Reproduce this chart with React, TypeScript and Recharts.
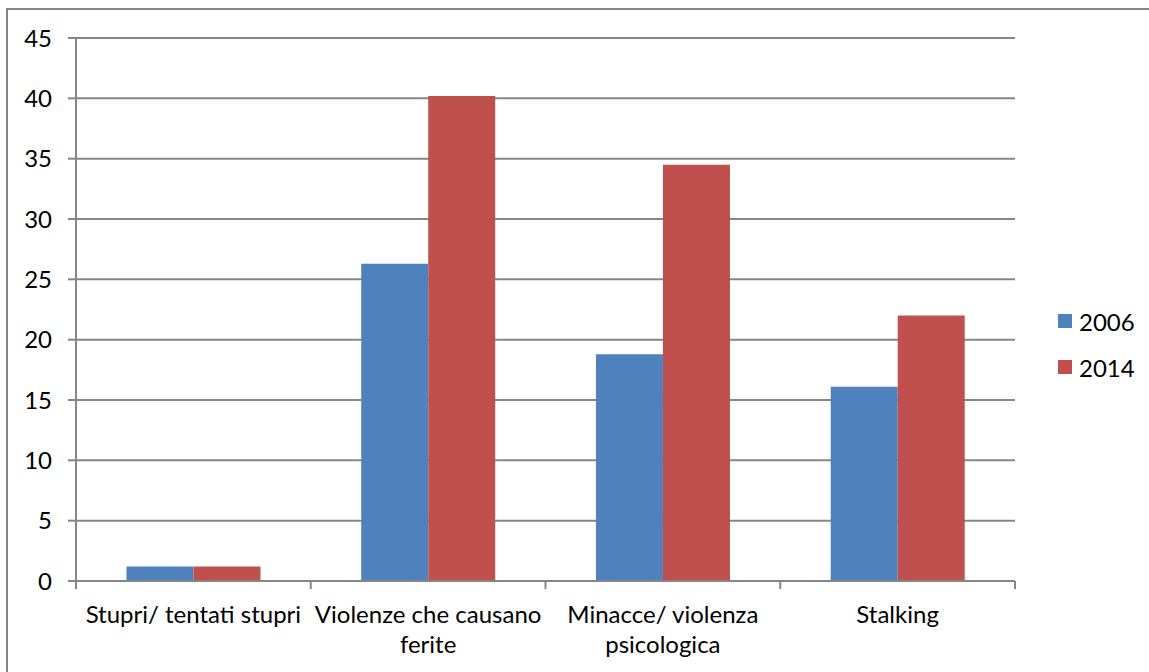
import React from 'react';
import { BarChart, Bar, XAxis, YAxis, CartesianGrid } from 'recharts';

const categories = ['Stupri/ tentati stupri', 'Violenze che causano\nferite', 'Minacce/ violenza\npsicologica', 'Stalking'];
const values2006 = [1.2, 26.3, 18.8, 16.1];
const values2014 = [1.2, 40.2, 34.5, 22.0];
const yTicks = [0, 5, 10, 15, 20, 25, 30, 35, 40, 45];
const seriesNames = ['2006', '2014'];

const BLUE = '#4F81BD';
const RED = '#C0504D';
const GRID = '#868686';
const FONT = 'Lato, "Open Sans", sans-serif';
const FS = 24;

const W = 1149;
const H = 672;
const Y_AXIS_W = 76;
const RIGHT = 134;
const BAND = (W - Y_AXIS_W - RIGHT) / categories.length;

const data = categories.map((name, i) => ({
  name,
  y2006: values2006[i],
  y2014: values2014[i],
}));

// category labels, with tick marks on the band edges like Excel
const CategoryTick = (props: any) => {
  const { x, y, payload, index } = props;
  const lines = String(payload.value).split('\n');
  const left = x - BAND / 2;
  return (
    <g>
      <line x1={left} y1={y} x2={left} y2={y + 8} stroke={GRID} strokeWidth={2} />
      {index === categories.length - 1 && (
        <line x1={x + BAND / 2} y1={y} x2={x + BAND / 2} y2={y + 8} stroke={GRID} strokeWidth={2} />
      )}
      <text x={x} y={y} textAnchor="middle" fill="#000" fontSize={FS} fontFamily={FONT}>
        {lines.map((l, i) => (
          <tspan key={i} x={x} dy={i === 0 ? 42 : 30}>{l}</tspan>
        ))}
      </text>
    </g>
  );
};

const LegendBox = () => (
  <div style={{ position: 'absolute', left: 1058, top: 298, fontFamily: FONT, fontSize: FS, color: '#000' }}>
    {seriesNames.map((label, i) => (
      <div key={label} style={{ display: 'flex', alignItems: 'center', height: 46 }}>
        <span style={{ width: 14, height: 14, background: i === 0 ? BLUE : RED, marginRight: 7 }} />
        <span>{label}</span>
      </div>
    ))}
  </div>
);

export default function App() {
  return (
    <div style={{ position: 'absolute', left: 0, top: 0, width: W, height: H, background: '#fff', overflow: 'hidden' }}>
      <div style={{ position: 'absolute', left: 6, top: 8, width: W, height: H, borderLeft: `2px solid ${GRID}`, borderTop: `2px solid ${GRID}` }} />
      <BarChart
        width={W}
        height={H}
        data={data}
        margin={{ top: 38, right: RIGHT, bottom: 0, left: 0 }}
        barCategoryGap="21.5%"
        barGap={0}
      >
        <CartesianGrid vertical={false} stroke={GRID} strokeWidth={2} />
        <YAxis
          width={Y_AXIS_W}
          domain={[0, 45]}
          ticks={yTicks}
          interval={0}
          axisLine={{ stroke: GRID, strokeWidth: 2 }}
          tickLine={{ stroke: GRID, strokeWidth: 2 }}
          tickSize={8}
          tickMargin={16}
          tick={{ fill: '#000', fontSize: FS, fontFamily: FONT }}
        />
        <XAxis
          dataKey="name"
          height={91}
          interval={0}
          axisLine={{ stroke: GRID, strokeWidth: 2 }}
          tickLine={false}
          tickSize={0}
          tickMargin={0}
          tick={<CategoryTick />}
        />
        <Bar dataKey="y2006" name={seriesNames[0]} fill={BLUE} isAnimationActive={false} />
        <Bar dataKey="y2014" name={seriesNames[1]} fill={RED} isAnimationActive={false} />
      </BarChart>
      <LegendBox />
    </div>
  );
}
